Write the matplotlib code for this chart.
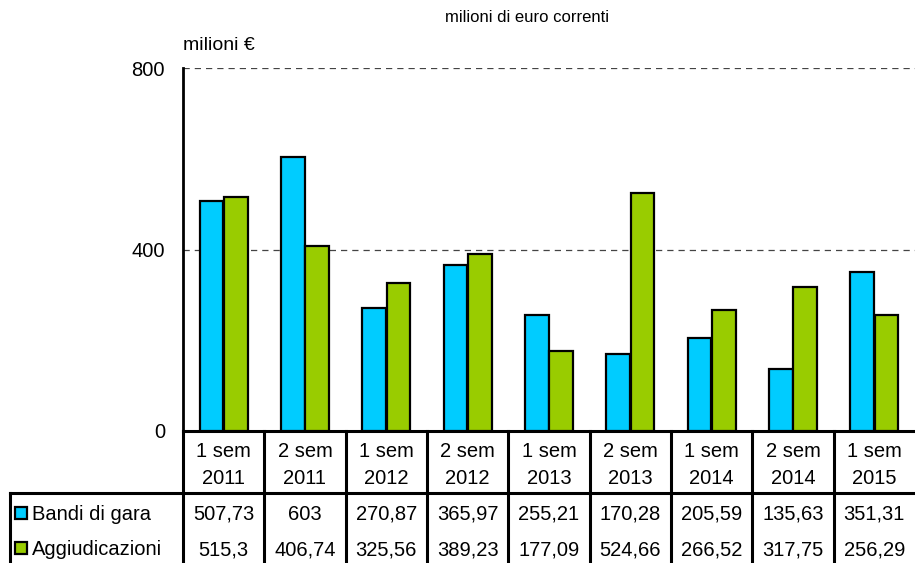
# Bandi di gara e aggiudicazioni - milioni di euro correnti
import numpy as np
import matplotlib.pyplot as plt
from matplotlib.transforms import blended_transform_factory
from matplotlib.patches import Rectangle

plt.rcParams['font.family'] = ['Liberation Sans', 'DejaVu Sans']

# Data
periods = ["1 sem\n2011", "2 sem\n2011", "1 sem\n2012", "2 sem\n2012", "1 sem\n2013",
           "2 sem\n2013", "1 sem\n2014", "2 sem\n2014", "1 sem\n2015"]
bandi = [507.73, 603, 270.87, 365.97, 255.21, 170.28, 205.59, 135.63, 351.31]
aggiudicazioni = [515.3, 406.74, 325.56, 389.23, 177.09, 524.66, 266.52, 317.75, 256.29]
bandi_labels = ["507,73", "603", "270,87", "365,97", "255,21", "170,28", "205,59", "135,63", "351,31"]
aggiud_labels = ["515,3", "406,74", "325,56", "389,23", "177,09", "524,66", "266,52", "317,75", "256,29"]
series_names = ["Bandi di gara", "Aggiudicazioni"]
yticks = [0, 400, 800]

cyan = "#00CCFF"
green = "#99CC00"
fs = 14.5

W, H = 915, 563
fig = plt.figure(figsize=(W / 100, H / 100), dpi=100)
# plot area in pixels: left 183, right 915, top 68, bottom 431
ax = fig.add_axes([183 / W, (H - 431) / H, (W - 183) / W, (431 - 68) / H])

x = np.arange(len(periods))
ax.bar(x - 0.15, bandi, width=0.29, color=cyan, edgecolor="black", linewidth=1.6, zorder=3)
ax.bar(x + 0.15, aggiudicazioni, width=0.29, color=green, edgecolor="black", linewidth=1.6, zorder=3)

ax.set_xlim(-0.5, len(periods) - 0.5)
ax.set_ylim(0, 800)
ax.set_yticks(yticks)
ax.set_yticklabels([str(t) for t in yticks], fontsize=fs)
ax.tick_params(axis="y", length=0, pad=13)
ax.set_xticks([])
for t in [400, 800]:
    ax.axhline(t, color="#444444", linestyle=(0, (5, 4)), linewidth=0.9, zorder=1)

for s in ["top", "right"]:
    ax.spines[s].set_visible(False)
ax.spines["left"].set_linewidth(2)
ax.spines["bottom"].set_linewidth(2.2)

# table under the axis
ppy = 1.0 / (431 - 68)            # axes fraction per pixel
def yfrac(ypix):
    return (431 - ypix) * ppy

colw = (W - 183) / len(periods)   # pixels per category
def xdata(xpix):
    return -0.5 + (xpix - 183) / colw

tr = blended_transform_factory(ax.transData, ax.transAxes)
lw = 2.2
n = len(periods)

# vertical column separators
for i in range(0, n):
    ax.plot([i - 0.5, i - 0.5], [yfrac(431), yfrac(563)], color="black", lw=lw,
            transform=tr, clip_on=False)
# row line under the header and left border of the legend column
x_left = xdata(10)
ax.plot([x_left, n - 0.5], [yfrac(493), yfrac(493)], color="black", lw=lw,
        transform=tr, clip_on=False)
ax.plot([x_left, x_left], [yfrac(493), yfrac(563)], color="black", lw=lw,
        transform=tr, clip_on=False)

# header labels (two lines, baseline aligned)
for i, lab in enumerate(periods):
    top, bottom = lab.split("\n")
    ax.text(i, yfrac(457), top, ha="center", va="baseline", fontsize=fs, transform=tr)
    ax.text(i, yfrac(484), bottom, ha="center", va="baseline", fontsize=fs, transform=tr)

# data rows
rows = [(bandi_labels, cyan, 520), (aggiud_labels, green, 555)]
for (labels, col, yb), name in zip(rows, series_names):
    for i, lab in enumerate(labels):
        ax.text(i, yfrac(yb), lab, ha="center", va="baseline", fontsize=fs, transform=tr)
    fig.patches.append(Rectangle((15 / W, (H - yb + 1) / H), 12 / W, 12 / H,
                                 facecolor=col, edgecolor="black", linewidth=1.6,
                                 transform=fig.transFigure, figure=fig))
    fig.text(32 / W, (H - yb) / H, name, ha="left", va="baseline", fontsize=fs)

# units
fig.text(183 / W, (H - 45) / H, "milioni €", ha="left", va="center", fontsize=14)
fig.text(527 / W, (H - 18) / H, "milioni di euro correnti", ha="center", va="center", fontsize=12)

fig.savefig("out.png", dpi=100)
